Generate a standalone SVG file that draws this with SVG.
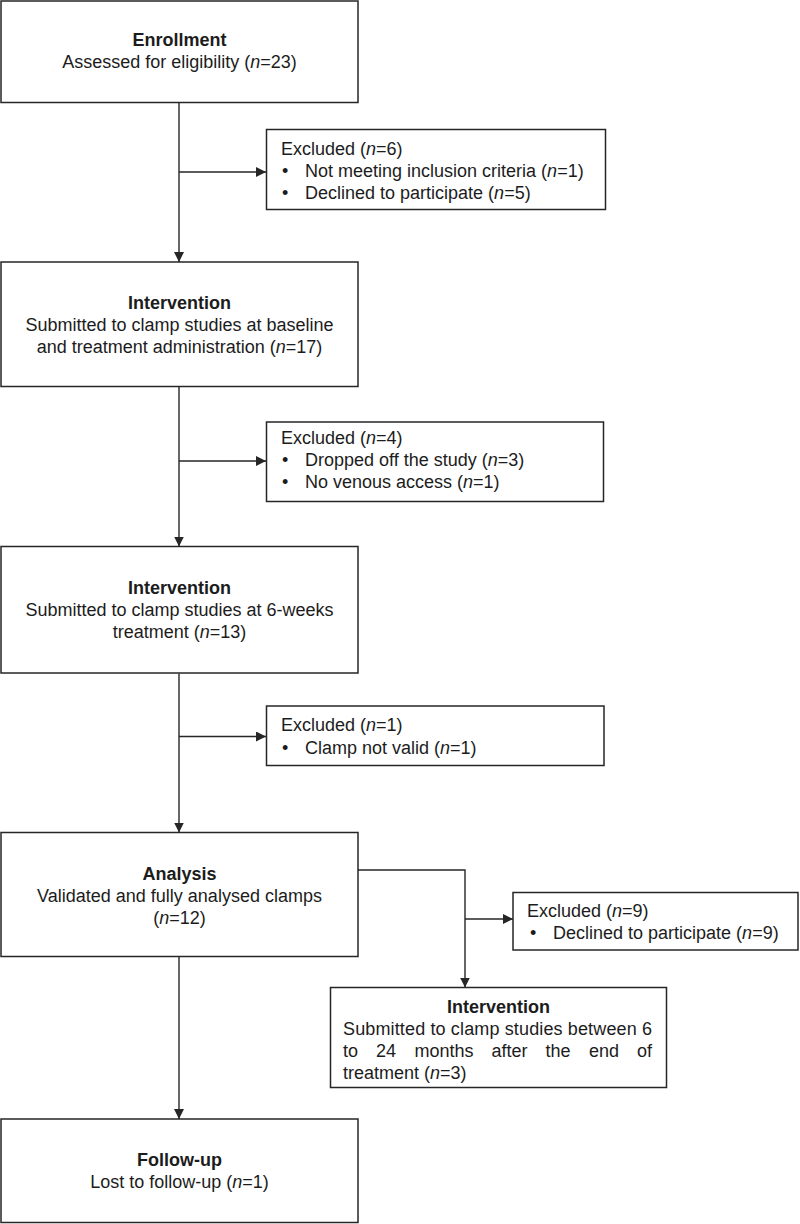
<svg xmlns="http://www.w3.org/2000/svg" width="800" height="1224" viewBox="0 0 800 1224">
<style>
.box{fill:#fff;stroke:#262626;stroke-width:1.5}
.t{font-family:"Liberation Sans",Arial,sans-serif;font-size:18px;fill:#1c1c1c}
.c{text-anchor:middle}
.b{font-weight:bold}
.i{font-style:italic}
.ln{fill:none;stroke:#262626;stroke-width:1.4}
</style>
<defs>
<marker id="ah" markerUnits="userSpaceOnUse" markerWidth="10" markerHeight="10" refX="10" refY="5" orient="auto" viewBox="0 0 10 10">
<path d="M0,0 L10,5 L0,10 z" fill="#262626"/>
</marker>
</defs>
<rect width="800" height="1224" fill="#fff"/>

<g id="connectors">
<path class="ln" d="M179,103 V262" marker-end="url(#ah)"/>
<path class="ln" d="M179,172 H266" marker-end="url(#ah)"/>
<path class="ln" d="M179,387 V546.5" marker-end="url(#ah)"/>
<path class="ln" d="M179,461 H266" marker-end="url(#ah)"/>
<path class="ln" d="M179,673.5 V832.5" marker-end="url(#ah)"/>
<path class="ln" d="M179,736.5 H266" marker-end="url(#ah)"/>
<path class="ln" d="M179,957 V1119" marker-end="url(#ah)"/>
<path class="ln" d="M358,870 H465 V987.5" marker-end="url(#ah)"/>
<path class="ln" d="M465,919 H513" marker-end="url(#ah)"/>
</g>

<g id="enrollment">
<rect class="box" x="1" y="1" width="357" height="101.5"/>
<text class="t c b" x="179.5" y="46">Enrollment</text>
<text class="t c" x="179.5" y="68">Assessed for eligibility (<tspan class="i">n</tspan>=23)</text>
</g>

<g id="excluded1">
<rect class="box" x="266.5" y="129.5" width="339" height="80"/>
<text class="t" x="281" y="155">Excluded (<tspan class="i">n</tspan>=6)</text>
<text class="t" x="282" y="177">•</text>
<text class="t" x="305" y="177">Not meeting inclusion criteria (<tspan class="i">n</tspan>=1)</text>
<text class="t" x="282" y="198.5">•</text>
<text class="t" x="305" y="198.5">Declined to participate (<tspan class="i">n</tspan>=5)</text>
</g>

<g id="intervention1">
<rect class="box" x="1" y="262" width="357" height="124.5"/>
<text class="t c b" x="179.5" y="309">Intervention</text>
<text class="t c" x="179.5" y="331">Submitted to clamp studies at baseline</text>
<text class="t c" x="179.5" y="352.5">and treatment administration  (<tspan class="i">n</tspan>=17)</text>
</g>

<g id="excluded2">
<rect class="box" x="266.5" y="422" width="337" height="79.5"/>
<text class="t" x="281" y="444">Excluded (<tspan class="i">n</tspan>=4)</text>
<text class="t" x="282" y="466">•</text>
<text class="t" x="305" y="466">Dropped off the study (<tspan class="i">n</tspan>=3)</text>
<text class="t" x="282" y="488">•</text>
<text class="t" x="305" y="488">No venous  access (<tspan class="i">n</tspan>=1)</text>
</g>

<g id="intervention2">
<rect class="box" x="1" y="546.5" width="357" height="126.5"/>
<text class="t c b" x="179.5" y="594">Intervention</text>
<text class="t c" x="179.5" y="616">Submitted to clamp studies at 6-weeks</text>
<text class="t c" x="179.5" y="637.5">treatment  (<tspan class="i">n</tspan>=13)</text>
</g>

<g id="excluded3">
<rect class="box" x="266.5" y="706" width="337.5" height="59.5"/>
<text class="t" x="281" y="731">Excluded (<tspan class="i">n</tspan>=1)</text>
<text class="t" x="282" y="753.5">•</text>
<text class="t" x="305" y="753.5">Clamp not valid  (<tspan class="i">n</tspan>=1)</text>
</g>

<g id="analysis">
<rect class="box" x="1" y="832.5" width="357" height="124"/>
<text class="t c b" x="179.5" y="880">Analysis</text>
<text class="t c" x="179.5" y="902">Validated and fully analysed clamps</text>
<text class="t c" x="179.5" y="923.5">(<tspan class="i">n</tspan>=12)</text>
</g>

<g id="excluded4">
<rect class="box" x="513" y="892.5" width="285" height="57.5"/>
<text class="t" x="527" y="917">Excluded (<tspan class="i">n</tspan>=9)</text>
<text class="t" x="530" y="938.5">•</text>
<text class="t" x="553" y="938.5">Declined to participate (<tspan class="i">n</tspan>=9)</text>
</g>

<g id="intervention3">
<rect class="box" x="330.5" y="987.5" width="336" height="100"/>
<text class="t c b" x="498.5" y="1013">Intervention</text>
<text class="t" x="343" y="1035" textLength="309" lengthAdjust="spacing">Submitted to clamp studies between 6</text>
<text class="t" y="1057"><tspan x="343">to</tspan><tspan x="376">24</tspan><tspan x="414.5">months</tspan><tspan x="491.5">after</tspan><tspan x="545.5">the</tspan><tspan x="589">end</tspan><tspan x="637">of</tspan></text>
<text class="t" x="343" y="1079">treatment (<tspan class="i">n</tspan>=3)</text>
</g>

<g id="followup">
<rect class="box" x="1" y="1119" width="357" height="103.5"/>
<text class="t c b" x="179.5" y="1166">Follow-up</text>
<text class="t c" x="179.5" y="1188">Lost to follow-up  (<tspan class="i">n</tspan>=1)</text>
</g>
</svg>
